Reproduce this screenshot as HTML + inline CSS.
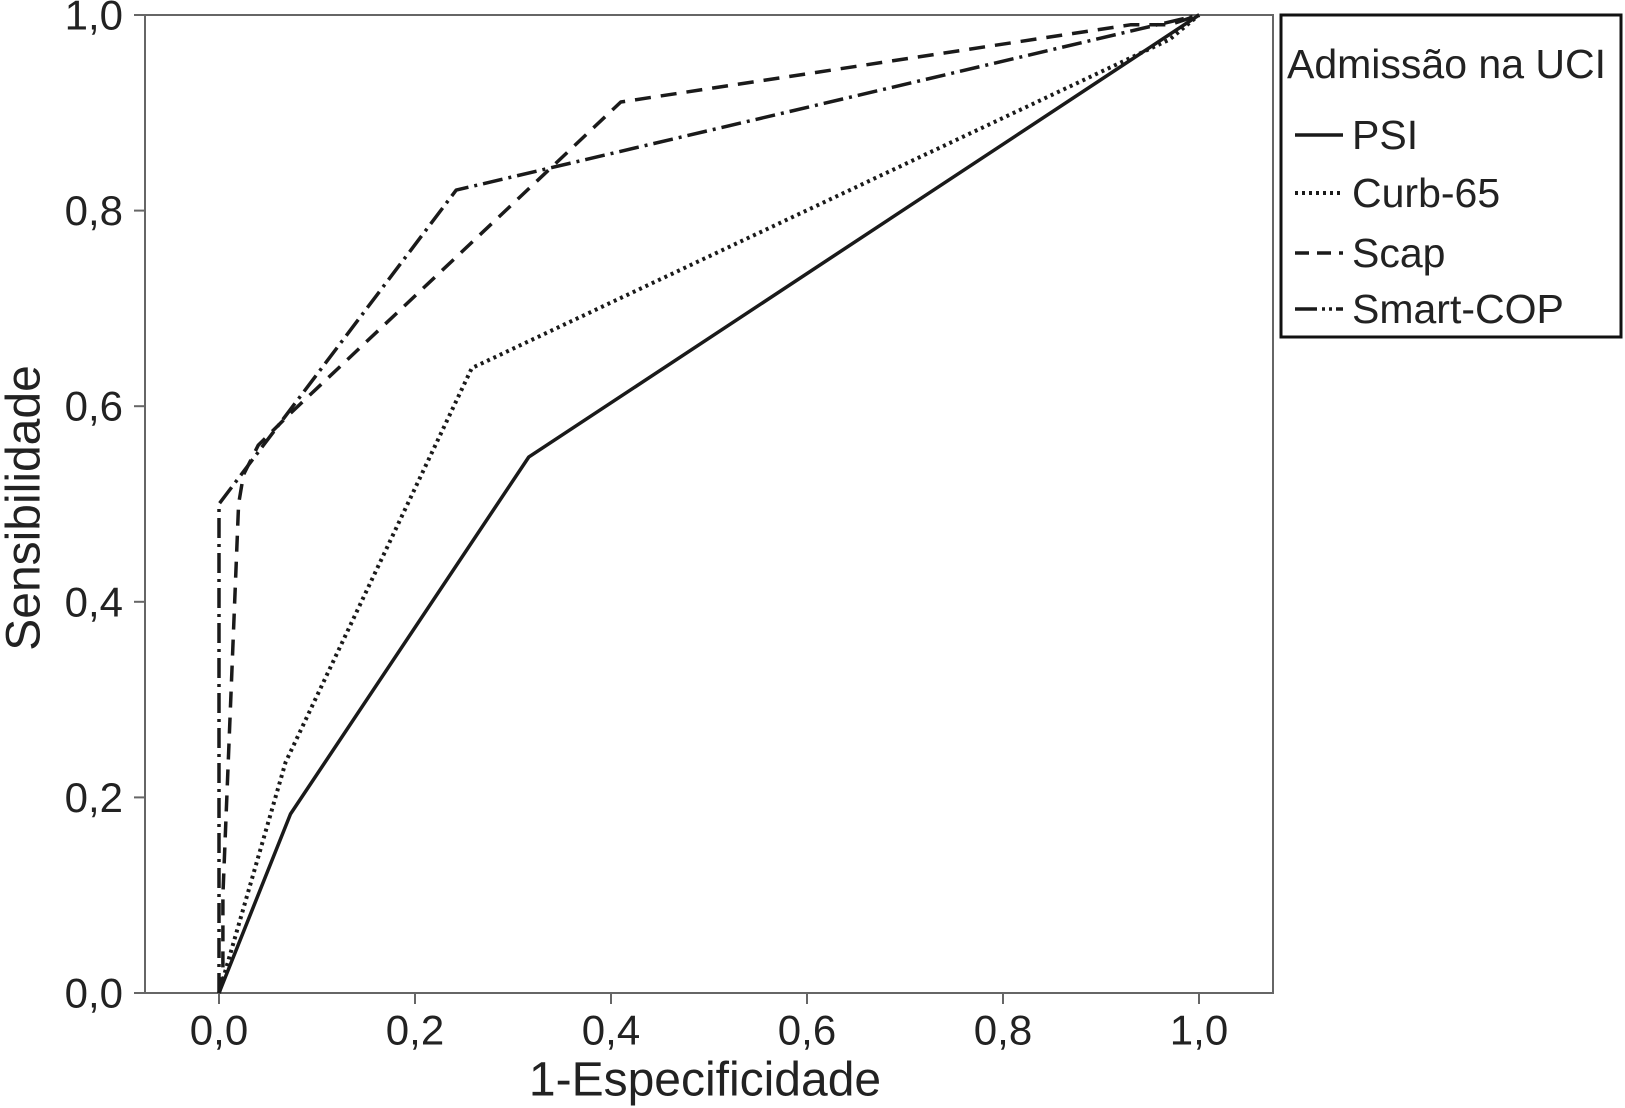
<!DOCTYPE html>
<html><head><meta charset="utf-8"><style>
body{margin:0;background:#fff;}
svg{display:block;font-family:"Liberation Sans",Arial,sans-serif;}
</style></head><body>
<svg id="chart" width="1625" height="1108" viewBox="0 0 1625 1108">
<rect x="145" y="15" width="1128" height="978" fill="#fff" stroke="#666" stroke-width="2"/>
<g id="ticks"></g>
<g id="series"></g>
<text x="24" y="508" transform="rotate(-90 24 508)" text-anchor="middle" dominant-baseline="central" font-size="48" fill="#222">Sensibilidade</text>
<text x="705" y="1080" text-anchor="middle" dominant-baseline="central" font-size="48" fill="#222">1-Especificidade</text>
<g>
<rect x="1281" y="15" width="340" height="322" fill="#fff" stroke="#111" stroke-width="3"/>
<text x="1287" y="64" dominant-baseline="central" font-size="41" fill="#222">Admissão na UCI</text>
<g id="legend-entries"></g>
</g>
</svg>
<script>
const categories = ["PSI","Curb-65","Scap","Smart-COP"];
const xTicks = [0,0.2,0.4,0.6,0.8,1.0];
const yTicks = [0,0.2,0.4,0.6,0.8,1.0];
const tickLabels = ["0,0","0,2","0,4","0,6","0,8","1,0"];
const psiFpr = [0,0.073,0.316,1];
const psiTpr = [0,0.183,0.548,1];
const curbFpr = [0,0.068,0.258,0.97,1];
const curbTpr = [0,0.236,0.639,0.975,1];
const scapFpr = [0,0.004,0.004,0.02,0.025,0.04,0.07,0.41,0.93,0.97,1];
const scapTpr = [0,0.02,0.1,0.5,0.53,0.56,0.59,0.911,0.99,0.99,1];
const smartFpr = [0,0,0,0.242,1];
const smartTpr = [0,0.1,0.5,0.821,1];
const X0=219, X1=1199, Y0=993, Y1=15;
function sx(v){return X0+(X1-X0)*v;}
function sy(v){return Y0-(Y0-Y1)*v;}
const NS="http://www.w3.org/2000/svg";
const tg=document.getElementById('ticks');
function mk(tag,attrs,parent){const e=document.createElementNS(NS,tag);for(const k in attrs)e.setAttribute(k,attrs[k]);parent.appendChild(e);return e;}
xTicks.forEach((v,i)=>{
  const l=mk('line',{x1:sx(v),x2:sx(v),y1:993,y2:1004,stroke:'#666','stroke-width':2},tg);
  
  
  const t=mk('text',{x:sx(v),y:1030,'text-anchor':'middle','dominant-baseline':'central','font-size':42,fill:'#222'},tg);
  t.textContent=tickLabels[i];
  
  
});
yTicks.forEach((v,i)=>{
  const l=mk('line',{x1:134,x2:145,y1:sy(v),y2:sy(v),stroke:'#666','stroke-width':2},tg);
  
  
  const t=mk('text',{x:123,y:sy(v),'text-anchor':'end','dominant-baseline':'central','font-size':42,fill:'#222'},tg);
  t.textContent=tickLabels[i];
  
  
});
const styles=[
 {dash:'',w:3.5},
 {dash:'3 4',w:4},
 {dash:'16 10',w:3.5},
 {dash:'20 6 3 6',w:3.5}
];
const data=[[psiFpr,psiTpr],[curbFpr,curbTpr],[scapFpr,scapTpr],[smartFpr,smartTpr]];
const sg=document.getElementById('series');
data.forEach((d,i)=>{
  const pts=d[0].map((x,j)=>sx(x).toFixed(1)+','+sy(d[1][j]).toFixed(1)).join(' ');
  const p=mk('polyline',{points:pts,fill:'none',stroke:'#1a1a1a','stroke-width':styles[i].w,'stroke-dasharray':styles[i].dash,'stroke-linejoin':'round'},sg);
  
  
});
const lg=document.getElementById('legend-entries');
const ly=[135,193,253,309];
categories.forEach((c,i)=>{
  const l=mk('line',{x1:1295,x2:1343,y1:ly[i],y2:ly[i],stroke:'#1a1a1a','stroke-width':styles[i].w,'stroke-dasharray':i==2?'14 8':(i==3?'22 5 3 4 3 4':styles[i].dash)},lg);
  
  
  const t=mk('text',{x:1352,y:ly[i],'dominant-baseline':'central','font-size':41,fill:'#222'},lg);
  t.textContent=c;
  
  
});
</script>
</body></html>
